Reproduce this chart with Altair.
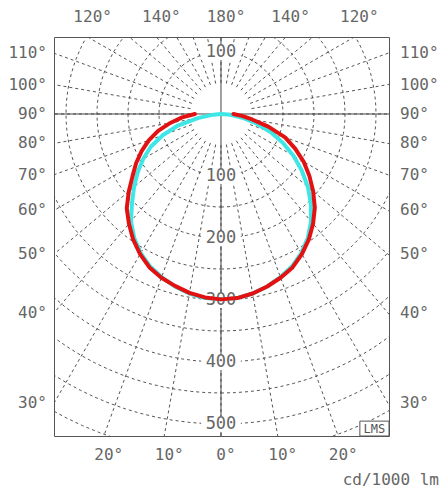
import math
import altair as alt
import pandas as pd

# ---------------- data ----------------
gamma = [0, 5, 10, 15, 20, 25, 30, 35, 40, 45, 50, 55, 60, 65, 70, 75, 80, 85, 90]
# C0 / C180 plane (red), cd/1000 lm
red_c0 = [299, 298, 294, 288, 281, 273, 261, 247, 231, 214, 194, 174, 154, 132, 110, 79, 51, 34, 20]
red_c180 = [299, 297, 293, 287, 281, 273, 261, 247, 231, 215, 194, 174, 158, 141, 124, 105, 83, 63, 42]
# C90 / C270 plane (cyan)
cyan_c90 = [299, 298, 294, 288, 280, 271, 259, 244, 226, 205, 183, 159, 135, 110, 85, 59, 35, 16, 0]
cyan_c270 = [299, 298, 294, 288, 280, 271, 259, 244, 226, 203, 183, 164, 145, 125, 100, 72, 38, 12, 0]

ring_values = [100, 150, 200, 250, 300, 350, 400, 450, 500, 550, 600]
ring_label_values = [100, 200, 300, 400, 500]
upper_ring_label_values = [100]
radial_angles = list(range(0, 360, 10))
radial_start = 50
side_angles = [110, 100, 90, 80, 70, 60, 50, 40, 30]
top_angles = [120, 140, 180, 140, 120]
top_sides = [-1, -1, 0, 1, 1]
bottom_angles = [20, 10, 0, 10, 20]
bottom_sides = [-1, -1, 0, 1, 1]
unit_text = ["cd/1000 lm"]
logo_text = ["LMS"]

# ---------------- scale domain (cd/1000 lm units) ----------------
XMIN, XMAX = -269.35, 270.97
YMIN, YMAX = -519.35, 124.19
R = math.radians

FONT = "DejaVu Sans Mono"
FS = 16
TXT = "#666666"
GRID = "#555555"


def curve_frame(name, left, right):
    rows = []
    k = 0
    for g, v in reversed(list(zip(gamma, left))):
        rows.append({"curve": name, "o": k, "x": -v * math.sin(R(g)), "y": -v * math.cos(R(g))})
        k += 1
    for g, v in zip(gamma[1:], right[1:]):
        rows.append({"curve": name, "o": k, "x": v * math.sin(R(g)), "y": -v * math.cos(R(g))})
        k += 1
    return pd.DataFrame(rows)


red_df = curve_frame("C0-C180", red_c180, red_c0)
cyan_df = curve_frame("C90-C270", cyan_c270, cyan_c90)

# rings
rr = []
for r in ring_values:
    for i, a in enumerate(range(0, 361, 3)):
        rr.append({"ring": r, "o": i, "x": r * math.sin(R(a)), "y": -r * math.cos(R(a))})
rings = pd.DataFrame(rr)

# radial lines
rad = []
for a in radial_angles:
    rad.append({"a": a, "x": radial_start * math.sin(R(a)), "y": -radial_start * math.cos(R(a)),
                "x2": 700 * math.sin(R(a)), "y2": -700 * math.cos(R(a))})
radials = pd.DataFrame(rad)

# axis lines through the centre
axes_df = pd.DataFrame([
    {"x": 0.0, "x2": 0.0, "y": YMIN, "y2": YMAX},
    {"x": XMIN, "x2": XMAX, "y": 0.0, "y2": 0.0},
])

# ring labels
rl = [{"t": str(v), "x": 0.0, "y": -float(v)} for v in ring_label_values]
rl += [{"t": str(v), "x": 0.0, "y": float(v)} for v in upper_ring_label_values]
ring_lab = pd.DataFrame(rl)
ring_lab["xa"] = ring_lab["x"] - 32
ring_lab["xb"] = ring_lab["x"] + 32
ring_lab["ya"] = ring_lab["y"] - 13
ring_lab["yb"] = ring_lab["y"] + 13

# angle labels where the radial lines meet the frame
left_lab = pd.DataFrame([{"t": f"{a}°", "x": XMIN,
                          "y": XMIN * math.cos(R(a)) / math.sin(R(a))} for a in side_angles])
right_lab = left_lab.assign(x=XMAX)
top_lab = pd.DataFrame([{"t": f"{a}°", "y": YMAX,
                         "x": s * YMAX * math.tan(R(180 - a))} for a, s in zip(top_angles, top_sides)])
bot_lab = pd.DataFrame([{"t": f"{a}°", "y": YMIN,
                         "x": s * (-YMIN) * math.tan(R(a))} for a, s in zip(bottom_angles, bottom_sides)])

unit_df = pd.DataFrame([{"t": unit_text[0], "x": XMAX, "y": YMIN}])
logo_box = pd.DataFrame([{"x": XMAX - 47, "x2": XMAX, "y": YMIN, "y2": YMIN + 24}])
logo_df = pd.DataFrame([{"t": logo_text[0], "x": XMAX - 23.5, "y": YMIN + 12}])

xs = alt.Scale(domain=[XMIN, XMAX], nice=False, zero=False)
ys = alt.Scale(domain=[YMIN, YMAX], nice=False, zero=False)
X = alt.X("x:Q", scale=xs, axis=None)
Y = alt.Y("y:Q", scale=ys, axis=None)

ring_layer = alt.Chart(rings).mark_line(clip=True, color=GRID, strokeWidth=1, strokeDash=[3, 3]).encode(
    x=X, y=Y, detail="ring:N", order="o:Q")
radial_layer = alt.Chart(radials).mark_rule(clip=True, color=GRID, strokeWidth=1, strokeDash=[3, 3]).encode(
    x=X, y=Y, x2="x2:Q", y2="y2:Q")
axis_layer = alt.Chart(axes_df).mark_rule(color="#444444", strokeWidth=1).encode(
    x=X, y=Y, x2="x2:Q", y2="y2:Q")
lab_bg = alt.Chart(ring_lab).mark_rect(color="white").encode(
    x=alt.X("xa:Q", scale=xs, axis=None), x2="xb:Q",
    y=alt.Y("ya:Q", scale=ys, axis=None), y2="yb:Q")
lab_txt = alt.Chart(ring_lab).mark_text(font=FONT, fontSize=FS + 1, color=TXT, baseline="middle").encode(
    x=X, y=Y, text="t:N")

cyan_layer = alt.Chart(cyan_df).mark_line(color="#3ee6e6", strokeWidth=4, strokeJoin="round",
                                          strokeCap="round").encode(x=X, y=Y, order="o:Q")
red_layer = alt.Chart(red_df).mark_line(color="#e31212", strokeWidth=4, strokeJoin="round",
                                        strokeCap="round").encode(x=X, y=Y, order="o:Q")

left_t = alt.Chart(left_lab).mark_text(font=FONT, fontSize=FS, color=TXT, align="right",
                                       baseline="middle", dx=-7).encode(x=X, y=Y, text="t:N")
right_t = alt.Chart(right_lab).mark_text(font=FONT, fontSize=FS, color=TXT, align="left",
                                         baseline="middle", dx=11).encode(x=X, y=Y, text="t:N")
top_t = alt.Chart(top_lab).mark_text(font=FONT, fontSize=FS, color=TXT, align="center",
                                     baseline="middle", dx=5, dy=-20).encode(x=X, y=Y, text="t:N")
bot_t = alt.Chart(bot_lab).mark_text(font=FONT, fontSize=FS, color=TXT, align="center",
                                     baseline="middle", dx=5, dy=19).encode(x=X, y=Y, text="t:N")
unit_t = alt.Chart(unit_df).mark_text(font=FONT, fontSize=FS, color=TXT, align="right",
                                      baseline="middle", dx=50, dy=44).encode(x=X, y=Y, text="t:N")
logo_r = alt.Chart(logo_box).mark_rect(fill="white", stroke="#555555", strokeWidth=1).encode(
    x=X, y=Y, x2="x2:Q", y2="y2:Q")
logo_t = alt.Chart(logo_df).mark_text(font=FONT, fontSize=12, color="#555555", align="center",
                                      baseline="middle").encode(x=X, y=Y, text="t:N")

chart = alt.layer(
    ring_layer, radial_layer, axis_layer, lab_bg, lab_txt, cyan_layer, red_layer,
    left_t, right_t, top_t, bot_t, unit_t, logo_r, logo_t
).properties(
    width=335, height=399,
    autosize=alt.AutoSizeParams(type="none"),
    padding={"left": 46, "top": 29, "right": 51, "bottom": 52},
    background="white",
).configure_view(stroke="#555555", strokeWidth=1)

chart.save("out.html", embed_options={"renderer": "svg", "actions": False})
